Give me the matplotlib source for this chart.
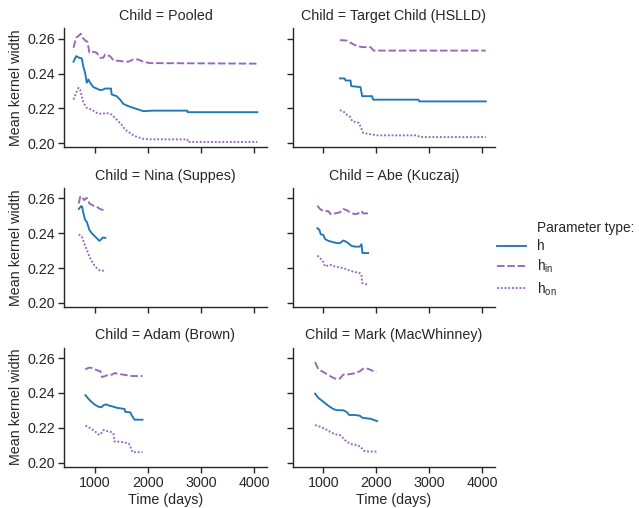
import matplotlib
matplotlib.use("Agg")
import matplotlib.pyplot as plt
from matplotlib.ticker import FixedLocator, FormatStrFormatter
from matplotlib.lines import Line2D

plt.rcParams['font.family'] = ['Liberation Sans', 'DejaVu Sans']
plt.rcParams['font.size'] = 10
TXT = '#262626'

# ---------------- data ----------------
children = ["Pooled", "Target Child (HSLLD)", "Nina (Suppes)",
            "Abe (Kuczaj)", "Adam (Brown)", "Mark (MacWhinney)"]

pooled_h_t = [592, 643, 705, 748, 780, 812, 842, 874, 906, 968, 1030, 1094, 1156, 1188, 1300, 1312,
              1406, 1470, 1532, 1626, 1720, 1908, 2096, 2741, 2745, 4062]
pooled_h_v = [0.2468, 0.2500, 0.2490, 0.2487, 0.2437, 0.2404, 0.2347, 0.2366, 0.2347, 0.2322, 0.2314,
              0.2305, 0.2308, 0.2314, 0.2314, 0.2280, 0.2270, 0.2251, 0.2226, 0.2213, 0.2203, 0.2184,
              0.2187, 0.2187, 0.2178, 0.2178]
pooled_hin_t = [592, 643, 686, 730, 767, 812, 855, 893, 968, 1030, 1094, 1156, 1188, 1282, 1344, 1500,
                1626, 1720, 1814, 1908, 2034, 4062]
pooled_hin_v = [0.2548, 0.2606, 0.2616, 0.2629, 0.2606, 0.2590, 0.2583, 0.2520, 0.2525, 0.2520, 0.2491,
                0.2491, 0.2510, 0.2500, 0.2477, 0.2471, 0.2468, 0.2481, 0.2481, 0.2468, 0.2460, 0.2457]
pooled_hon_t = [592, 643, 686, 718, 748, 780, 842, 936, 1030, 1124, 1218, 1312, 1406, 1500, 1564, 1658,
                1752, 1908, 2034, 2741, 2745, 4062]
pooled_hon_v = [0.2251, 0.2289, 0.2318, 0.2308, 0.2270, 0.2232, 0.2203, 0.2193, 0.2174, 0.2168, 0.2174,
                0.2164, 0.2136, 0.2107, 0.2078, 0.2059, 0.2040, 0.2025, 0.2022, 0.2022, 0.2007, 0.2007]

hslld_h_t = [1311, 1400, 1418, 1512, 1525, 1700, 1731, 1919, 1938, 2794, 2812, 4064]
hslld_h_v = [0.2372, 0.2372, 0.2360, 0.2360, 0.2328, 0.2322, 0.2270, 0.2270, 0.2250, 0.2250, 0.2240, 0.2240]
hslld_hin_t = [1311, 1437, 1512, 1574, 1637, 1731, 1887, 1950, 4064]
hslld_hin_v = [0.2592, 0.2590, 0.2577, 0.2567, 0.2558, 0.2552, 0.2552, 0.2532, 0.2532]
hslld_hon_t = [1311, 1386, 1450, 1512, 1544, 1668, 1713, 1750, 1856, 2013, 2763, 2825, 4064]
hslld_hon_v = [0.2190, 0.2180, 0.2161, 0.2149, 0.2126, 0.2117, 0.2088, 0.2059, 0.2053, 0.2045, 0.2045,
               0.2035, 0.2035]

nina_h_t = [692, 737, 756, 780, 812, 842, 893, 936, 1000, 1062, 1081, 1105, 1143, 1194]
nina_h_v = [0.2539, 0.2556, 0.2552, 0.2514, 0.2476, 0.2466, 0.2419, 0.2400, 0.2381, 0.2362, 0.2356,
            0.2362, 0.2375, 0.2373]
nina_hin_t = [692, 718, 748, 793, 842, 893, 968, 1030, 1094, 1194]
nina_hin_v = [0.2571, 0.2609, 0.2613, 0.2590, 0.2603, 0.2571, 0.2558, 0.2552, 0.2539, 0.2529]
nina_hon_t = [692, 748, 793, 842, 906, 968, 1030, 1094, 1194]
nina_hon_v = [0.2394, 0.2381, 0.2343, 0.2305, 0.2257, 0.2223, 0.2200, 0.2185, 0.2185]

abe_h_t = [887, 925, 949, 1000, 1030, 1094, 1188, 1250, 1311, 1375, 1424, 1469, 1531, 1593, 1687,
           1719, 1737, 1844]
abe_h_v = [0.2429, 0.2419, 0.2394, 0.2390, 0.2367, 0.2356, 0.2349, 0.2343, 0.2343, 0.2358, 0.2352,
           0.2343, 0.2327, 0.2323, 0.2323, 0.2337, 0.2286, 0.2286]
abe_hin_t = [887, 937, 1000, 1094, 1137, 1218, 1311, 1375, 1437, 1500, 1593, 1656, 1719, 1750, 1844]
abe_hin_v = [0.2558, 0.2539, 0.2527, 0.2527, 0.2509, 0.2514, 0.2520, 0.2539, 0.2533, 0.2520, 0.2509,
             0.2514, 0.2527, 0.2514, 0.2514]
abe_hon_t = [887, 969, 1000, 1030, 1125, 1218, 1311, 1405, 1500, 1593, 1687, 1719, 1731, 1781, 1844]
abe_hon_v = [0.2272, 0.2247, 0.2234, 0.2209, 0.2219, 0.2209, 0.2203, 0.2196, 0.2185, 0.2177, 0.2171,
             0.2162, 0.2114, 0.2109, 0.2105]

adam_h_t = [817, 880, 943, 1006, 1068, 1118, 1162, 1207, 1256, 1350, 1414, 1507, 1556, 1569, 1664,
            1695, 1744, 1895]
adam_h_v = [0.2387, 0.2364, 0.2345, 0.2330, 0.2320, 0.2317, 0.2330, 0.2334, 0.2328, 0.2320, 0.2314,
            0.2310, 0.2307, 0.2291, 0.2288, 0.2269, 0.2246, 0.2246]
adam_hin_t = [817, 880, 943, 1038, 1100, 1131, 1193, 1256, 1319, 1368, 1444, 1569, 1695, 1895]
adam_hin_v = [0.2535, 0.2545, 0.2543, 0.2530, 0.2524, 0.2491, 0.2497, 0.2505, 0.2505, 0.2514, 0.2509,
              0.2503, 0.2497, 0.2497]
adam_hon_t = [817, 911, 1006, 1081, 1131, 1162, 1225, 1319, 1350, 1368, 1444, 1538, 1632, 1664, 1707, 1895]
adam_hon_v = [0.2212, 0.2197, 0.2177, 0.2158, 0.2174, 0.2187, 0.2181, 0.2174, 0.2162, 0.2120, 0.2120,
              0.2116, 0.2110, 0.2091, 0.2059, 0.2059]

mark_h_t = [843, 906, 1000, 1094, 1188, 1250, 1375, 1437, 1488, 1593, 1687, 1737, 1812, 1906, 2013]
mark_h_v = [0.2396, 0.2371, 0.2349, 0.2326, 0.2307, 0.2301, 0.2300, 0.2291, 0.2273, 0.2273, 0.2269,
            0.2257, 0.2254, 0.2250, 0.2238]
mark_hin_t = [843, 906, 1000, 1125, 1218, 1311, 1375, 1437, 1562, 1687, 1750, 1844, 1906, 2000]
mark_hin_v = [0.2577, 0.2535, 0.2520, 0.2497, 0.2482, 0.2482, 0.2505, 0.2505, 0.2511, 0.2524, 0.2539,
              0.2539, 0.2530, 0.2517]
mark_hon_t = [843, 937, 1030, 1125, 1218, 1311, 1375, 1437, 1531, 1625, 1700, 1762, 1844, 2000]
mark_hon_v = [0.2215, 0.2206, 0.2193, 0.2177, 0.2162, 0.2158, 0.2139, 0.2120, 0.2105, 0.2101, 0.2091,
              0.2067, 0.2063, 0.2063]

legend_title = "Parameter type:"
param_labels = ["h", "h$_{\\mathregular{in}}$", "h$_{\\mathregular{on}}$"]
y_ticks = [0.20, 0.22, 0.24, 0.26]
x_ticks = [1000, 2000, 3000, 4000]

series = [
    [(pooled_h_t, pooled_h_v), (pooled_hin_t, pooled_hin_v), (pooled_hon_t, pooled_hon_v)],
    [(hslld_h_t, hslld_h_v), (hslld_hin_t, hslld_hin_v), (hslld_hon_t, hslld_hon_v)],
    [(nina_h_t, nina_h_v), (nina_hin_t, nina_hin_v), (nina_hon_t, nina_hon_v)],
    [(abe_h_t, abe_h_v), (abe_hin_t, abe_hin_v), (abe_hon_t, abe_hon_v)],
    [(adam_h_t, adam_h_v), (adam_hin_t, adam_hin_v), (adam_hon_t, adam_hon_v)],
    [(mark_h_t, mark_h_v), (mark_hin_t, mark_hin_v), (mark_hon_t, mark_hon_v)],
]

# ---------------- styles ----------------
colors = ['#1f77b4', '#9467bd', '#9467bd']
lw = 1.35
dashes = [None, (4, 1.5), (1, 1)]

fig, axes = plt.subplots(3, 2, figsize=(6.39, 5.08), dpi=100, sharex=True, sharey=True)
fig.subplots_adjust(left=0.1006, right=0.7746, top=0.9443, bottom=0.0813,
                    wspace=0.128, hspace=0.341)

for i, ax in enumerate(axes.flat):
    for j, (t, v) in enumerate(series[i]):
        line, = ax.plot(t, v, color=colors[j], lw=lw)
        if dashes[j] is not None:
            line.set_dashes(dashes[j])
    ax.set_title("Child = " + children[i], fontsize=10.3, color=TXT, pad=6)
    for s in ['top', 'right']:
        ax.spines[s].set_visible(False)
    for s in ['left', 'bottom']:
        ax.spines[s].set_color(TXT)
        ax.spines[s].set_linewidth(1.0)
    ax.tick_params(direction='out', length=4, width=1.0, color=TXT, labelcolor=TXT, labelsize=10.3, pad=2.5)
    ax.yaxis.set_major_locator(FixedLocator(y_ticks))
    ax.xaxis.set_major_locator(FixedLocator(x_ticks))
    ax.yaxis.set_major_formatter(FormatStrFormatter('%.2f'))

for ax in axes[:, 0]:
    ax.set_ylabel("Mean kernel width", fontsize=10.3, color=TXT, labelpad=3)
for ax in axes[-1, :]:
    ax.set_xlabel("Time (days)", fontsize=10.3, color=TXT, labelpad=2)

# legend: seaborn-style, variable name as an entry with invisible handle
handles = [Line2D([0], [0], color='none', lw=0)]
for j in range(3):
    l = Line2D([0], [0], color=colors[j], lw=lw)
    if dashes[j] is not None:
        l.set_dashes(dashes[j])
    handles.append(l)
leg = fig.legend(handles, [legend_title] + param_labels, loc="center left",
                 bbox_to_anchor=(0.778, 0.49), frameon=False, fontsize=9.8,
                 handlelength=2.1, handletextpad=0.8, labelspacing=0.35,
                 borderpad=0, borderaxespad=0)
for t in leg.get_texts():
    t.set_color(TXT)

fig.savefig("out.png", dpi=100)
